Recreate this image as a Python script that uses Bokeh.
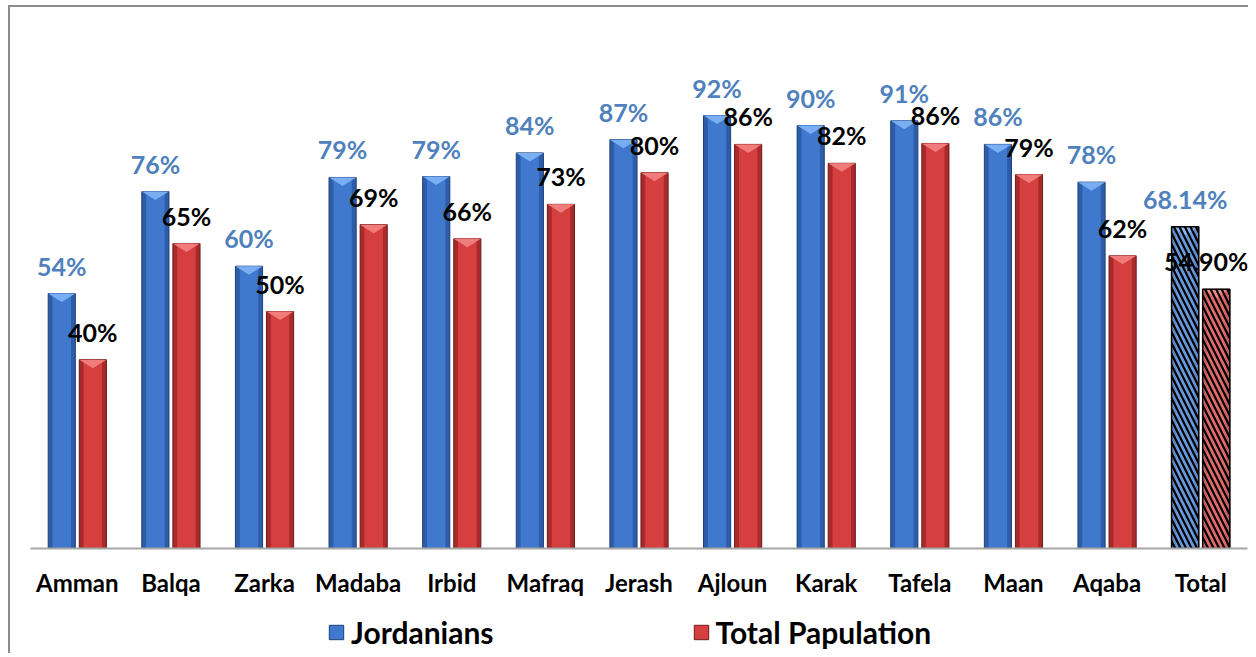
from bokeh.plotting import figure
from bokeh.models import Range1d, FixedTicker, Legend, LegendItem, ColumnDataSource
from bokeh.layouts import column
from bokeh.embed import file_html
from bokeh.resources import INLINE
from bokeh.core.properties import value

# ---- data ----
categories = ["Amman", "Balqa", "Zarka", "Madaba", "Irbid", "Mafraq", "Jerash",
              "Ajloun", "Karak", "Tafela", "Maan", "Aqaba", "Total"]
jordanians = [54.0, 75.6, 59.8, 78.6, 78.8, 83.8, 86.6, 91.7, 89.6, 90.6, 85.6, 77.6, 68.14]
total_pop = [40.0, 64.6, 50.2, 68.6, 65.6, 72.9, 79.6, 85.6, 81.6, 85.8, 79.2, 62.0, 54.90]
series_names = ["Jordanians", "Total Papulation"]

FONT = "Lato"
OFF = 0.166
BW = 0.29
TRI = 1.8
BLUE_OUT, BLUE_IN, BLUE_TOP, BLUE_EDGE = "#2d5ca8", "#3f78cc", "#7aaef2", "#1d3f78"
RED_OUT, RED_IN, RED_TOP, RED_EDGE = "#a82a2a", "#d63f3f", "#f07c7c", "#6e1a1a"

n = len(categories)
xs = list(range(n))
xb = [x - OFF for x in xs]
xr = [x + OFF for x in xs]
ti = categories.index("Total")

def fmt(v, i):
    return f"{v:.2f}%" if categories[i] == "Total" else f"{v:.0f}%"

p = figure(width=1238, height=601, output_backend="svg", toolbar_location=None,
           x_range=Range1d(-0.5, n - 0.5), y_range=Range1d(0, 114.6),
           min_border_left=20, min_border_right=1, min_border_top=0, min_border_bottom=60)
p.outline_line_color = None
p.border_fill_color = "white"
p.grid.visible = False
p.yaxis.visible = False

ax = p.xaxis[0]
ax.ticker = FixedTicker(ticks=xs)
ax.major_label_overrides = {i: c for i, c in enumerate(categories)}
ax.major_tick_line_color = None
ax.minor_tick_line_color = None
ax.axis_line_color = "#a6a6a6"
ax.axis_line_width = 2
ax.major_label_standoff = 13
ax.major_label_text_font = FONT
ax.major_label_text_font_style = "bold"
ax.major_label_text_font_size = "24px"
ax.major_label_text_color = "black"

src = ColumnDataSource(dict(xb=xb, xr=xr, jo=jordanians, tp=total_pop))

# blue bars
p.vbar(x="xb", top="jo", width=BW, source=src, fill_color=BLUE_OUT, line_color=BLUE_EDGE, line_width=1)
p.vbar(x="xb", top="jo", width=BW * 0.68, source=src, fill_color=BLUE_IN, line_color=None)
p.patches(xs=[[x - BW / 2, x + BW / 2, x] for x in xb],
          ys=[[v, v, v - TRI] for v in jordanians], fill_color=BLUE_TOP, line_color=None)
# red bars
p.vbar(x="xr", top="tp", width=BW, source=src, fill_color=RED_OUT, line_color=RED_EDGE, line_width=1)
p.vbar(x="xr", top="tp", width=BW * 0.68, source=src, fill_color=RED_IN, line_color=None)
p.patches(xs=[[x - BW / 2, x + BW / 2, x] for x in xr],
          ys=[[v, v, v - TRI] for v in total_pop], fill_color=RED_TOP, line_color=None)

# hatched Total bars
p.vbar(x=[xb[ti]], top=[jordanians[ti]], width=BW, fill_color="#9cc0f0", fill_alpha=0.45,
       hatch_pattern="\\", hatch_color="black", hatch_scale=11, hatch_weight=2.2,
       line_color="black", line_width=1.5)
p.vbar(x=[xr[ti]], top=[total_pop[ti]], width=BW, fill_color="#f0a0a0", fill_alpha=0.45,
       hatch_pattern="\\", hatch_color="black", hatch_scale=11, hatch_weight=2.2,
       line_color="black", line_width=1.5)

# labels
reg = [i for i in range(n) if i != ti]
lab = dict(text_align="center", text_baseline="bottom", y_offset=-13,
           text_font=value(FONT), text_font_style="bold", text_font_size="25px")
p.text(x=[xb[i] for i in reg], y=[jordanians[i] for i in reg],
       text=[fmt(jordanians[i], i) for i in reg], text_color="#4F81BD", **lab)
p.text(x=[xr[i] for i in reg], y=[total_pop[i] for i in reg],
       text=[fmt(total_pop[i], i) for i in reg], text_color="black", **lab)
p.text(x=[xb[ti]], y=[jordanians[ti]], text=[fmt(jordanians[ti], ti)], text_color="#4F81BD", **lab)
p.text(x=[xr[ti]], y=[total_pop[ti]], text=[fmt(total_pop[ti], ti)], text_color="black",
       x_offset=-10, **lab)

# legend figure (dummy renderers sit outside the visible range)
q = figure(width=1238, height=45, output_backend="svg", toolbar_location=None,
           x_range=Range1d(0, 1), y_range=Range1d(0, 1),
           min_border_left=20, min_border_right=1, min_border_top=0, min_border_bottom=0)
q.outline_line_color = None
q.axis.visible = False
q.grid.visible = False
lb = q.vbar(x=[-5], top=[-5], width=0.1, fill_color=BLUE_IN, line_color=BLUE_EDGE)
lr = q.vbar(x=[-5], top=[-5], width=0.1, fill_color=RED_IN, line_color=RED_EDGE)
legend = Legend(items=[LegendItem(label=series_names[0], renderers=[lb]),
                       LegendItem(label=series_names[1], renderers=[lr])],
                orientation="horizontal", location=(297, 3))
legend.label_text_font = FONT
legend.label_text_font_style = "bold"
legend.label_text_font_size = "30px"
legend.label_text_color = "black"
legend.glyph_width = 18
legend.glyph_height = 18
legend.label_standoff = 6
legend.spacing = 198
legend.padding = 2
legend.margin = 0
legend.border_line_color = None
legend.background_fill_alpha = 0
q.add_layout(legend, "center")

layout = column(p, q, spacing=0)
layout.styles = {"border-top": "2px solid #8c8c8c", "border-left": "2px solid #8c8c8c",
                 "margin-left": "8px", "margin-top": "5px"}

open("out.html", "w").write(file_html(layout, INLINE))
